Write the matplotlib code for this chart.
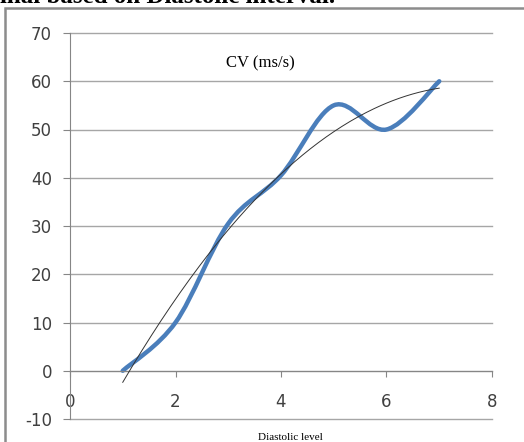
import numpy as np
import matplotlib
matplotlib.use("Agg")
import matplotlib.pyplot as plt
from matplotlib.path import Path
from matplotlib.patches import PathPatch, Rectangle

plt.rcParams["axes.unicode_minus"] = False

# --- data ---
diastolic = [1, 2, 3, 4, 5, 6, 7]
cv = [0, 10, 30.5, 40.5, 55, 50, 60]
x_ticks = [0, 2, 4, 6, 8]
y_ticks = [-10, 0, 10, 20, 30, 40, 50, 60, 70]

serif = ["Liberation Serif", "DejaVu Serif"]

# smoothed line like Excel (Catmull-Rom as cubic bezier segments)
def smooth_path(xs, ys):
    pts = np.column_stack([xs, ys]).astype(float)
    verts = [pts[0]]
    codes = [Path.MOVETO]
    n = len(pts)
    for i in range(n - 1):
        p0 = pts[i - 1] if i > 0 else pts[i]
        p1 = pts[i]
        p2 = pts[i + 1]
        p3 = pts[i + 2] if i + 2 < n else pts[i + 1]
        c1 = p1 + (p2 - p0) / 6.0
        c2 = p2 - (p3 - p1) / 6.0
        verts += [c1, c2, p2]
        codes += [Path.CURVE4] * 3
    return Path(verts, codes)

fig = plt.figure(figsize=(5.24, 4.42), dpi=100)
ax = fig.add_axes([70 / 524, 1 - 419 / 442, 422 / 524, 386 / 442])

ax.set_xlim(0, 8)
ax.set_ylim(-10, 70)

# gridlines
for v in y_ticks:
    ax.axhline(v, color="#a6a6a6", lw=1.0, zorder=0, clip_on=False)

# trendline, 2nd order polynomial
coef = np.polyfit(diastolic, cv, 2)
xt = np.linspace(diastolic[0], diastolic[-1], 200)
ax.plot(xt, np.polyval(coef, xt), color="#333333", lw=0.7, zorder=3)

ax.add_patch(PathPatch(smooth_path(diastolic, cv), facecolor="none",
                       edgecolor="#4a7ebb", lw=3.2, capstyle="round", zorder=2))

ax.spines["top"].set_visible(False)
ax.spines["right"].set_visible(False)
ax.spines["left"].set_color("#868686")
ax.spines["bottom"].set_color("#868686")
ax.spines["bottom"].set_position(("data", 0))

ax.set_yticks(y_ticks)
ax.set_xticks(x_ticks)
ax.tick_params(axis="y", length=5, width=0.8, color="#868686", pad=8,
               labelsize=12, labelcolor="#404040")
ax.tick_params(axis="x", direction="out", length=4, width=0.8, color="#868686",
               pad=12, labelsize=12, labelcolor="#404040")

ax.text(0.45, 0.92, "CV (ms/s)", transform=ax.transAxes, ha="center", va="center",
        fontsize=12, family=serif, color="black")
fig.text(290 / 524, 1 - 437 / 442, "Diastolic level", ha="center", va="center",
         fontsize=8, family=serif, color="black")

# cut-off caption above chart
fig.text(0, 1 - 3 / 442, "inal based on Diastolic interval.", ha="left", va="baseline",
         fontsize=18, family=serif, weight="bold", color="black")

# chart frame
fig.add_artist(Rectangle((5 / 524, -0.05), 1.2, 1 - 8 / 442 + 0.05,
                         transform=fig.transFigure, fill=False,
                         edgecolor="#8c8c8c", lw=1.8))

fig.savefig("out.png", dpi=100)
